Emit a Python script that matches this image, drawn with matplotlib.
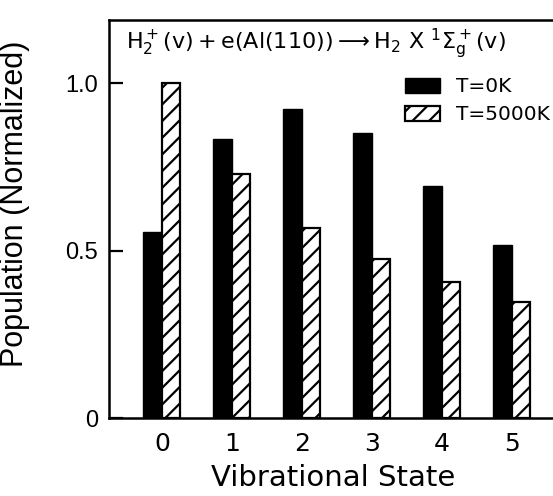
import matplotlib.pyplot as plt
import matplotlib.patches as mpatches
import numpy as np

plt.rcParams['hatch.linewidth'] = 1.6

states = [0, 1, 2, 3, 4, 5]
pop_0K = [0.555, 0.833, 0.922, 0.851, 0.693, 0.516]
pop_5000K = [1.0, 0.728, 0.567, 0.475, 0.406, 0.346]
legend_labels = ['T=0K', 'T=5000K']

fig = plt.figure(figsize=(5.53, 4.96), dpi=100)
ax = fig.add_axes([0.197, 0.157, 0.87, 0.802])

x = np.array(states)
w = 0.265
ax.bar(x - w / 2, pop_0K, w, color='black', edgecolor='black', linewidth=1.0)
ax.bar(x + w / 2, pop_5000K, w, color='white', edgecolor='black',
       linewidth=1.6, hatch='//')

# right edge of the box falls outside the picture, as in the scan
ax.set_xlim(-0.757, 6.12)
ax.set_ylim(0, 1.188)

for s in ax.spines.values():
    s.set_linewidth(1.8)

ax.set_xticks(states)
ax.set_xticklabels([str(s) for s in states], fontsize=18, family='DejaVu Sans')
ax.tick_params(axis='x', length=0, pad=10)
ax.set_yticks([0, 0.5, 1.0])
ax.set_yticklabels(['0', '0.5', '1.0'], fontsize=17, family='Liberation Sans')
ax.tick_params(axis='y', direction='in', length=10, width=1.6, pad=8)

ax.set_xlabel('Vibrational State', fontsize=21, family='DejaVu Sans')
ax.xaxis.set_label_coords(0.466, -0.115)
ax.set_ylabel('Population (Normalized)', fontsize=22, family='Liberation Sans')
ax.yaxis.set_label_coords(-0.165, 0.54)

ax.text(0.035, 0.94,
        r'$\mathregular{H_2^+(v)+e(Al(110))\longrightarrow H_2\ X\ {}^1\Sigma_g^+(v)}$',
        transform=ax.transAxes, fontsize=16, family='DejaVu Sans', va='center')

handles = [mpatches.Patch(facecolor='black', edgecolor='black'),
           mpatches.Patch(facecolor='white', edgecolor='black', hatch='//', linewidth=1.6)]
ax.legend(handles, legend_labels, loc='upper left', bbox_to_anchor=(0.615, 0.857),
          frameon=False, borderpad=0, borderaxespad=0,
          handlelength=1.75, handleheight=0.8, handletextpad=0.8, labelspacing=0.45,
          prop={'family': 'DejaVu Sans', 'size': 14.5})

fig.savefig('out.png', dpi=100)
